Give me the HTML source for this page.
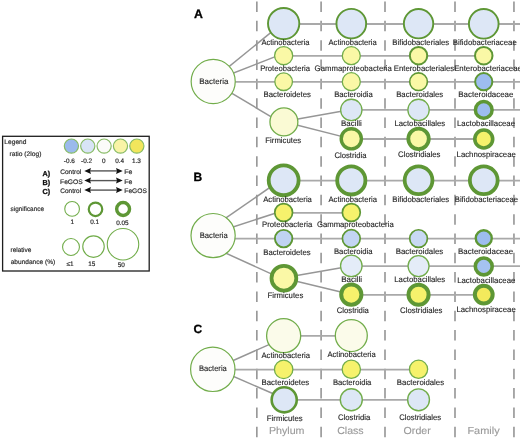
<!DOCTYPE html>
<html><head><meta charset="utf-8"><style>
html,body{margin:0;padding:0;background:#fff;}
svg{display:block;font-family:"Liberation Sans",sans-serif;text-rendering:geometricPrecision;will-change:transform;}
</style></head><body>
<svg width="520" height="438" viewBox="0 0 520 438">
<rect width="520" height="438" fill="#fff"/>
<line x1="256.85" y1="0" x2="256.85" y2="438" stroke="#959595" stroke-width="1.6" stroke-dasharray="10.5 8.83" stroke-dashoffset="-1.5"/>
<line x1="321.1" y1="0" x2="321.1" y2="438" stroke="#959595" stroke-width="1.6" stroke-dasharray="10.5 8.83" stroke-dashoffset="-1.5"/>
<line x1="385.0" y1="0" x2="385.0" y2="438" stroke="#959595" stroke-width="1.6" stroke-dasharray="10.5 8.83" stroke-dashoffset="-1.5"/>
<line x1="455.0" y1="0" x2="455.0" y2="438" stroke="#959595" stroke-width="1.6" stroke-dasharray="10.5 8.83" stroke-dashoffset="-1.5"/>
<line x1="513.95" y1="0" x2="513.95" y2="438" stroke="#959595" stroke-width="1.6" stroke-dasharray="10.5 8.83" stroke-dashoffset="-1.5"/>
<line x1="213" y1="79.64" x2="283.65" y2="22.07" stroke="#969696" stroke-width="1.5"/>
<line x1="213" y1="80.97" x2="283.65" y2="53.42" stroke="#969696" stroke-width="1.5"/>
<line x1="213" y1="82.03" x2="283.9" y2="124.38" stroke="#969696" stroke-width="1.5"/>
<line x1="213" y1="81.9" x2="520" y2="81.9" stroke="#a9a9a9" stroke-width="1.8"/>
<line x1="283.65" y1="24.0" x2="520" y2="24.0" stroke="#a9a9a9" stroke-width="1.8"/>
<line x1="283.65" y1="55.9" x2="483.75" y2="55.9" stroke="#a9a9a9" stroke-width="1.8"/>
<line x1="283.9" y1="121.48" x2="351.3" y2="109.42" stroke="#969696" stroke-width="1.5"/>
<line x1="283.9" y1="121.83" x2="351.3" y2="138.86" stroke="#969696" stroke-width="1.5"/>
<line x1="351.3" y1="109.9" x2="520" y2="109.9" stroke="#a9a9a9" stroke-width="1.8"/>
<line x1="351.3" y1="139.0" x2="483.75" y2="139.0" stroke="#a9a9a9" stroke-width="1.8"/>
<circle cx="213.2" cy="81.5" r="22.05" fill="#fdfdfb" stroke="#72ad4b" stroke-width="1.2"/>
<circle cx="283.65" cy="23.6" r="15.65" fill="#dde7f6" stroke="#5e9735" stroke-width="1.9"/>
<circle cx="351.3" cy="23.7" r="14.85" fill="#dde7f6" stroke="#5e9735" stroke-width="1.9"/>
<circle cx="418.55" cy="23.7" r="14.70" fill="#dde7f6" stroke="#5e9735" stroke-width="1.9"/>
<circle cx="483.75" cy="23.8" r="14.85" fill="#dde7f6" stroke="#5e9735" stroke-width="1.9"/>
<circle cx="283.65" cy="55.699999999999996" r="9.05" fill="#faf8a6" stroke="#72ad4b" stroke-width="1.3"/>
<circle cx="351.3" cy="55.699999999999996" r="9.00" fill="#faf8a6" stroke="#72ad4b" stroke-width="1.3"/>
<circle cx="418.55" cy="55.699999999999996" r="8.70" fill="#faf8a6" stroke="#5e9735" stroke-width="2"/>
<circle cx="483.75" cy="55.699999999999996" r="8.75" fill="#faf8a6" stroke="#5e9735" stroke-width="2"/>
<circle cx="283.65" cy="81.7" r="8.80" fill="#faf8a6" stroke="#72ad4b" stroke-width="1.3"/>
<circle cx="351.3" cy="81.7" r="9.00" fill="#faf8a6" stroke="#72ad4b" stroke-width="1.3"/>
<circle cx="418.55" cy="81.7" r="8.85" fill="#faf8a6" stroke="#5e9735" stroke-width="1.6"/>
<circle cx="483.75" cy="81.7" r="8.60" fill="#9dbdef" stroke="#5e9735" stroke-width="2"/>
<circle cx="283.9" cy="121.9" r="13.95" fill="#fafad4" stroke="#72ad4b" stroke-width="1.3"/>
<circle cx="351.3" cy="109.9" r="10.65" fill="#dde7f6" stroke="#72ad4b" stroke-width="1.3"/>
<circle cx="418.55" cy="109.9" r="10.65" fill="#dde7f6" stroke="#72ad4b" stroke-width="1.3"/>
<circle cx="483.75" cy="109.9" r="8.35" fill="#9dbdef" stroke="#5e9735" stroke-width="3.5"/>
<circle cx="351.3" cy="138.8" r="10.10" fill="#faf8a6" stroke="#5e9735" stroke-width="3.4"/>
<circle cx="418.55" cy="138.8" r="10.25" fill="#faf8a6" stroke="#5e9735" stroke-width="3.8"/>
<circle cx="483.75" cy="139.0" r="8.95" fill="#f6f26c" stroke="#5e9735" stroke-width="3.6"/>
<text x="199.35" y="83.95" font-size="8.0" fill="#1e1e1e" textLength="29.05" lengthAdjust="spacingAndGlyphs" stroke="#1e1e1e" stroke-width="0.12">Bacteria</text>
<text x="261.39" y="45.05" font-size="8.0" fill="#1e1e1e" textLength="48.21" lengthAdjust="spacingAndGlyphs" stroke="#1e1e1e" stroke-width="0.12">Actinobacteria</text>
<text x="328.49" y="44.85" font-size="8.0" fill="#1e1e1e" textLength="48.31" lengthAdjust="spacingAndGlyphs" stroke="#1e1e1e" stroke-width="0.12">Actinobacteria</text>
<text x="392.36" y="45.25" font-size="8.0" fill="#1e1e1e" textLength="56.81" lengthAdjust="spacingAndGlyphs" stroke="#1e1e1e" stroke-width="0.12">Bifidobacteriales</text>
<text x="452.76" y="45.25" font-size="8.0" fill="#1e1e1e" textLength="63.98" lengthAdjust="spacingAndGlyphs" stroke="#1e1e1e" stroke-width="0.12">Bifidobacteriaceae</text>
<text x="260.17" y="70.85" font-size="8.0" fill="#1e1e1e" textLength="49.83" lengthAdjust="spacingAndGlyphs" stroke="#1e1e1e" stroke-width="0.12">Proteobacteria</text>
<text x="314.61" y="71.45" font-size="8.0" fill="#1e1e1e" textLength="77.29" lengthAdjust="spacingAndGlyphs" stroke="#1e1e1e" stroke-width="0.12">Gammaproteobacteria</text>
<text x="393.76" y="71.05" font-size="8.0" fill="#1e1e1e" textLength="60.42" lengthAdjust="spacingAndGlyphs" stroke="#1e1e1e" stroke-width="0.12">Enterobacteriales</text>
<text x="454.16" y="71.15" font-size="8.0" fill="#1e1e1e" textLength="67.69" lengthAdjust="spacingAndGlyphs" stroke="#1e1e1e" stroke-width="0.12">Enterobacteriaceae</text>
<text x="263.56" y="96.95" font-size="8.0" fill="#1e1e1e" textLength="47.42" lengthAdjust="spacingAndGlyphs" stroke="#1e1e1e" stroke-width="0.12">Bacteroidetes</text>
<text x="334.17" y="96.85" font-size="8.0" fill="#1e1e1e" textLength="38.53" lengthAdjust="spacingAndGlyphs" stroke="#1e1e1e" stroke-width="0.12">Bacteroidia</text>
<text x="396.16" y="96.75" font-size="8.0" fill="#1e1e1e" textLength="47.02" lengthAdjust="spacingAndGlyphs" stroke="#1e1e1e" stroke-width="0.12">Bacteroidales</text>
<text x="458.35" y="96.85" font-size="8.0" fill="#1e1e1e" textLength="55.00" lengthAdjust="spacingAndGlyphs" stroke="#1e1e1e" stroke-width="0.12">Bacteroidaceae</text>
<text x="265.36" y="143.45" font-size="8.0" fill="#1e1e1e" textLength="35.72" lengthAdjust="spacingAndGlyphs" stroke="#1e1e1e" stroke-width="0.12">Firmicutes</text>
<text x="341.05" y="126.25" font-size="8.0" fill="#1e1e1e" textLength="20.79" lengthAdjust="spacingAndGlyphs" stroke="#1e1e1e" stroke-width="0.12">Bacilli</text>
<text x="394.47" y="125.95" font-size="8.0" fill="#1e1e1e" textLength="50.71" lengthAdjust="spacingAndGlyphs" stroke="#1e1e1e" stroke-width="0.12">Lactobacillales</text>
<text x="457.06" y="126.45" font-size="8.0" fill="#1e1e1e" textLength="57.98" lengthAdjust="spacingAndGlyphs" stroke="#1e1e1e" stroke-width="0.12">Lactobacillaceae</text>
<text x="334.41" y="157.75" font-size="8.0" fill="#1e1e1e" textLength="32.09" lengthAdjust="spacingAndGlyphs" stroke="#1e1e1e" stroke-width="0.12">Clostridia</text>
<text x="398.10" y="157.15" font-size="8.0" fill="#1e1e1e" textLength="42.38" lengthAdjust="spacingAndGlyphs" stroke="#1e1e1e" stroke-width="0.12">Clostridiales</text>
<text x="456.56" y="157.45" font-size="8.0" fill="#1e1e1e" textLength="59.28" lengthAdjust="spacingAndGlyphs" stroke="#1e1e1e" stroke-width="0.12">Lachnospiraceae</text>
<line x1="213" y1="226.99" x2="283.65" y2="177.88" stroke="#969696" stroke-width="1.5"/>
<line x1="213" y1="233.47" x2="283.65" y2="210.51" stroke="#969696" stroke-width="1.5"/>
<line x1="213" y1="247.30" x2="283.9" y2="279.67" stroke="#969696" stroke-width="1.5"/>
<line x1="213" y1="238.6" x2="520" y2="238.6" stroke="#a9a9a9" stroke-width="1.8"/>
<line x1="283.65" y1="180.6" x2="520" y2="180.6" stroke="#a9a9a9" stroke-width="1.8"/>
<line x1="283.65" y1="212.9" x2="351.3" y2="212.9" stroke="#a9a9a9" stroke-width="1.8"/>
<line x1="283.9" y1="277.68" x2="351.3" y2="266.05" stroke="#969696" stroke-width="1.5"/>
<line x1="283.9" y1="278.34" x2="351.3" y2="294.49" stroke="#969696" stroke-width="1.5"/>
<line x1="351.3" y1="266.1" x2="520" y2="266.1" stroke="#a9a9a9" stroke-width="1.8"/>
<line x1="351.3" y1="294.8" x2="483.75" y2="294.8" stroke="#a9a9a9" stroke-width="1.8"/>
<circle cx="213.1" cy="235.6" r="22.10" fill="#fdfdfb" stroke="#72ad4b" stroke-width="1.2"/>
<circle cx="283.65" cy="180.29999999999998" r="14.95" fill="#dde7f6" stroke="#5e9735" stroke-width="3.8"/>
<circle cx="351.3" cy="180.4" r="14.10" fill="#dde7f6" stroke="#5e9735" stroke-width="3.8"/>
<circle cx="418.55" cy="180.29999999999998" r="13.90" fill="#dde7f6" stroke="#5e9735" stroke-width="3.8"/>
<circle cx="483.75" cy="180.29999999999998" r="13.90" fill="#dde7f6" stroke="#5e9735" stroke-width="3.8"/>
<circle cx="283.65" cy="212.5" r="8.90" fill="#f6f26c" stroke="#5e9735" stroke-width="1.7"/>
<circle cx="351.3" cy="212.5" r="8.95" fill="#f6f26c" stroke="#5e9735" stroke-width="1.7"/>
<circle cx="283.65" cy="238.6" r="8.75" fill="#c0d3f2" stroke="#5e9735" stroke-width="1.9"/>
<circle cx="351.3" cy="238.6" r="8.90" fill="#c3d5f2" stroke="#5e9735" stroke-width="1.7"/>
<circle cx="418.55" cy="238.6" r="8.85" fill="#c8d9f3" stroke="#5e9735" stroke-width="1.7"/>
<circle cx="483.75" cy="238.29999999999998" r="8.00" fill="#9dbdef" stroke="#5e9735" stroke-width="2.4"/>
<circle cx="283.9" cy="278.2" r="12.40" fill="#faf8a6" stroke="#5e9735" stroke-width="3.8"/>
<circle cx="351.3" cy="265.90000000000003" r="10.75" fill="#e4ecf8" stroke="#72ad4b" stroke-width="1.3"/>
<circle cx="418.55" cy="266.1" r="10.50" fill="#e4ecf8" stroke="#72ad4b" stroke-width="1.3"/>
<circle cx="483.75" cy="266.40000000000003" r="8.45" fill="#a5c2f0" stroke="#5e9735" stroke-width="3.6"/>
<circle cx="351.3" cy="294.6" r="10.10" fill="#f6f26c" stroke="#5e9735" stroke-width="4"/>
<circle cx="418.55" cy="294.8" r="10.05" fill="#f6f26c" stroke="#5e9735" stroke-width="4"/>
<circle cx="483.75" cy="294.6" r="8.90" fill="#f3ea5c" stroke="#5e9735" stroke-width="4"/>
<text x="199.77" y="237.95" font-size="8.0" fill="#1e1e1e" textLength="28.03" lengthAdjust="spacingAndGlyphs" stroke="#1e1e1e" stroke-width="0.12">Bacteria</text>
<text x="263.18" y="201.75" font-size="8.0" fill="#1e1e1e" textLength="48.72" lengthAdjust="spacingAndGlyphs" stroke="#1e1e1e" stroke-width="0.12">Actinobacteria</text>
<text x="328.49" y="201.85" font-size="8.0" fill="#1e1e1e" textLength="48.51" lengthAdjust="spacingAndGlyphs" stroke="#1e1e1e" stroke-width="0.12">Actinobacteria</text>
<text x="392.37" y="201.75" font-size="8.0" fill="#1e1e1e" textLength="56.71" lengthAdjust="spacingAndGlyphs" stroke="#1e1e1e" stroke-width="0.12">Bifidobacteriales</text>
<text x="454.77" y="201.95" font-size="8.0" fill="#1e1e1e" textLength="63.27" lengthAdjust="spacingAndGlyphs" stroke="#1e1e1e" stroke-width="0.12">Bifidobacteriaceae</text>
<text x="262.07" y="227.35" font-size="8.0" fill="#1e1e1e" textLength="50.13" lengthAdjust="spacingAndGlyphs" stroke="#1e1e1e" stroke-width="0.12">Proteobacteria</text>
<text x="316.91" y="226.95" font-size="8.0" fill="#1e1e1e" textLength="76.79" lengthAdjust="spacingAndGlyphs" stroke="#1e1e1e" stroke-width="0.12">Gammaproteobacteria</text>
<text x="263.26" y="254.55" font-size="8.0" fill="#1e1e1e" textLength="47.42" lengthAdjust="spacingAndGlyphs" stroke="#1e1e1e" stroke-width="0.12">Bacteroidetes</text>
<text x="333.97" y="254.25" font-size="8.0" fill="#1e1e1e" textLength="38.63" lengthAdjust="spacingAndGlyphs" stroke="#1e1e1e" stroke-width="0.12">Bacteroidia</text>
<text x="395.66" y="254.35" font-size="8.0" fill="#1e1e1e" textLength="47.63" lengthAdjust="spacingAndGlyphs" stroke="#1e1e1e" stroke-width="0.12">Bacteroidales</text>
<text x="458.05" y="254.25" font-size="8.0" fill="#1e1e1e" textLength="55.00" lengthAdjust="spacingAndGlyphs" stroke="#1e1e1e" stroke-width="0.12">Bacteroidaceae</text>
<text x="267.46" y="298.45" font-size="8.0" fill="#1e1e1e" textLength="35.82" lengthAdjust="spacingAndGlyphs" stroke="#1e1e1e" stroke-width="0.12">Firmicutes</text>
<text x="341.14" y="281.95" font-size="8.0" fill="#1e1e1e" textLength="20.90" lengthAdjust="spacingAndGlyphs" stroke="#1e1e1e" stroke-width="0.12">Bacilli</text>
<text x="394.26" y="282.05" font-size="8.0" fill="#1e1e1e" textLength="51.02" lengthAdjust="spacingAndGlyphs" stroke="#1e1e1e" stroke-width="0.12">Lactobacillales</text>
<text x="457.16" y="282.55" font-size="8.0" fill="#1e1e1e" textLength="58.19" lengthAdjust="spacingAndGlyphs" stroke="#1e1e1e" stroke-width="0.12">Lactobacillaceae</text>
<text x="336.81" y="312.75" font-size="8.0" fill="#1e1e1e" textLength="32.09" lengthAdjust="spacingAndGlyphs" stroke="#1e1e1e" stroke-width="0.12">Clostridia</text>
<text x="400.10" y="312.85" font-size="8.0" fill="#1e1e1e" textLength="42.38" lengthAdjust="spacingAndGlyphs" stroke="#1e1e1e" stroke-width="0.12">Clostridiales</text>
<text x="456.46" y="311.95" font-size="8.0" fill="#1e1e1e" textLength="59.28" lengthAdjust="spacingAndGlyphs" stroke="#1e1e1e" stroke-width="0.12">Lachnospiraceae</text>
<line x1="213" y1="369.46" x2="283.65" y2="338.11" stroke="#969696" stroke-width="1.5"/>
<line x1="213" y1="367.49" x2="284.2" y2="398.48" stroke="#969696" stroke-width="1.5"/>
<line x1="213" y1="369.6" x2="418.55" y2="369.6" stroke="#a9a9a9" stroke-width="1.8"/>
<line x1="283.65" y1="335.85" x2="351.3" y2="335.85" stroke="#a9a9a9" stroke-width="1.8"/>
<line x1="284.2" y1="399.9" x2="418.55" y2="399.9" stroke="#a9a9a9" stroke-width="1.8"/>
<circle cx="212.8" cy="369.3" r="22.20" fill="#fdfdfb" stroke="#72ad4b" stroke-width="1.2"/>
<circle cx="283.65" cy="335.65000000000003" r="17.05" fill="#fbfbea" stroke="#72ad4b" stroke-width="1.3"/>
<circle cx="351.3" cy="335.55" r="16.00" fill="#fbfbea" stroke="#72ad4b" stroke-width="1.3"/>
<circle cx="283.65" cy="369.40000000000003" r="9.20" fill="#f6f26c" stroke="#72ad4b" stroke-width="1.3"/>
<circle cx="351.3" cy="369.3" r="9.15" fill="#f6f26c" stroke="#72ad4b" stroke-width="1.3"/>
<circle cx="418.55" cy="369.3" r="9.10" fill="#f6f26c" stroke="#72ad4b" stroke-width="1.3"/>
<circle cx="284.2" cy="399.79999999999995" r="12.55" fill="#dde7f6" stroke="#5e9735" stroke-width="2.6"/>
<circle cx="351.3" cy="399.79999999999995" r="11.00" fill="#dde7f6" stroke="#72ad4b" stroke-width="1.4"/>
<circle cx="418.55" cy="399.79999999999995" r="10.90" fill="#dde7f6" stroke="#72ad4b" stroke-width="1.4"/>
<text x="198.98" y="371.05" font-size="8.0" fill="#1e1e1e" textLength="27.82" lengthAdjust="spacingAndGlyphs" stroke="#1e1e1e" stroke-width="0.12">Bacteria</text>
<text x="261.49" y="358.45" font-size="8.0" fill="#1e1e1e" textLength="48.51" lengthAdjust="spacingAndGlyphs" stroke="#1e1e1e" stroke-width="0.12">Actinobacteria</text>
<text x="327.39" y="357.15" font-size="8.0" fill="#1e1e1e" textLength="48.31" lengthAdjust="spacingAndGlyphs" stroke="#1e1e1e" stroke-width="0.12">Actinobacteria</text>
<text x="261.56" y="385.05" font-size="8.0" fill="#1e1e1e" textLength="47.72" lengthAdjust="spacingAndGlyphs" stroke="#1e1e1e" stroke-width="0.12">Bacteroidetes</text>
<text x="332.97" y="385.45" font-size="8.0" fill="#1e1e1e" textLength="38.43" lengthAdjust="spacingAndGlyphs" stroke="#1e1e1e" stroke-width="0.12">Bacteroidia</text>
<text x="396.86" y="385.45" font-size="8.0" fill="#1e1e1e" textLength="47.22" lengthAdjust="spacingAndGlyphs" stroke="#1e1e1e" stroke-width="0.12">Bacteroidales</text>
<text x="266.86" y="421.25" font-size="8.0" fill="#1e1e1e" textLength="35.82" lengthAdjust="spacingAndGlyphs" stroke="#1e1e1e" stroke-width="0.12">Firmicutes</text>
<text x="338.01" y="420.15" font-size="8.0" fill="#1e1e1e" textLength="32.29" lengthAdjust="spacingAndGlyphs" stroke="#1e1e1e" stroke-width="0.12">Clostridia</text>
<text x="399.31" y="420.15" font-size="8.0" fill="#1e1e1e" textLength="41.87" lengthAdjust="spacingAndGlyphs" stroke="#1e1e1e" stroke-width="0.12">Clostridiales</text>
<text x="268.92" y="434.45" font-size="10.2" fill="#9a9a9a" textLength="35.58" lengthAdjust="spacingAndGlyphs" stroke="#9a9a9a" stroke-width="0.12">Phylum</text>
<text x="337.16" y="434.45" font-size="10.2" fill="#9a9a9a" textLength="26.52" lengthAdjust="spacingAndGlyphs" stroke="#9a9a9a" stroke-width="0.12">Class</text>
<text x="403.60" y="434.45" font-size="10.2" fill="#9a9a9a" textLength="27.18" lengthAdjust="spacingAndGlyphs" stroke="#9a9a9a" stroke-width="0.12">Order</text>
<text x="467.40" y="434.45" font-size="10.2" fill="#9a9a9a" textLength="32.22" lengthAdjust="spacingAndGlyphs" stroke="#9a9a9a" stroke-width="0.12">Family</text>
<text x="194.1" y="18.0" font-size="12.3" fill="#000" text-anchor="start" font-weight="bold" stroke="#000" stroke-width="0.3">A</text>
<text x="193.6" y="180.7" font-size="12" fill="#000" text-anchor="start" font-weight="bold" stroke="#000" stroke-width="0.3">B</text>
<text x="193.4" y="333.2" font-size="12" fill="#000" text-anchor="start" font-weight="bold" stroke="#000" stroke-width="0.3">C</text>
<rect x="2.6" y="136.3" width="146.6" height="134.7" fill="#fff" stroke="#1e1e1e" stroke-width="1.3"/>
<text x="4.36" y="143.9" font-size="6.6" fill="#2a2a2a" textLength="22.07" lengthAdjust="spacingAndGlyphs" stroke="#2a2a2a" stroke-width="0.18">Legend</text>
<text x="9.46" y="155.7" font-size="6.6" fill="#2a2a2a" textLength="31.96" lengthAdjust="spacingAndGlyphs" stroke="#2a2a2a" stroke-width="0.18">ratio (2log)</text>
<circle cx="71.4" cy="146.1" r="7.10" fill="#9bbaec" stroke="#88bb66" stroke-width="1.2"/>
<circle cx="87.76" cy="146.1" r="7.10" fill="#d8e4f6" stroke="#88bb66" stroke-width="1.2"/>
<circle cx="104.12" cy="146.1" r="7.10" fill="#fbfbf9" stroke="#88bb66" stroke-width="1.2"/>
<circle cx="120.48" cy="146.1" r="7.10" fill="#f9f4a6" stroke="#88bb66" stroke-width="1.2"/>
<circle cx="136.84" cy="146.1" r="7.10" fill="#f2e65c" stroke="#88bb66" stroke-width="1.2"/>
<text x="69.3" y="163.0" font-size="6.4" fill="#2a2a2a" text-anchor="middle" font-weight="normal" stroke="#2a2a2a" stroke-width="0.18">-0.6</text>
<text x="86.6" y="163.0" font-size="6.4" fill="#2a2a2a" text-anchor="middle" font-weight="normal" stroke="#2a2a2a" stroke-width="0.18">-0.2</text>
<text x="103.7" y="163.0" font-size="6.4" fill="#2a2a2a" text-anchor="middle" font-weight="normal" stroke="#2a2a2a" stroke-width="0.18">0</text>
<text x="119.6" y="163.0" font-size="6.4" fill="#2a2a2a" text-anchor="middle" font-weight="normal" stroke="#2a2a2a" stroke-width="0.18">0.4</text>
<text x="136.4" y="163.0" font-size="6.4" fill="#2a2a2a" text-anchor="middle" font-weight="normal" stroke="#2a2a2a" stroke-width="0.18">1.3</text>
<text x="42.5" y="176.1" font-size="7.2" fill="#111" text-anchor="start" font-weight="bold" stroke="#111" stroke-width="0.3">A)</text>
<text x="60.27" y="174.3" font-size="6.6" fill="#2a2a2a" textLength="20.97" lengthAdjust="spacingAndGlyphs" stroke="#2a2a2a" stroke-width="0.18">Control</text>
<text x="124.33" y="174.3" font-size="6.6" fill="#2a2a2a" textLength="8.08" lengthAdjust="spacingAndGlyphs" stroke="#2a2a2a" stroke-width="0.18">Fe</text>
<text x="42.5" y="184.8" font-size="7.2" fill="#111" text-anchor="start" font-weight="bold" stroke="#111" stroke-width="0.3">B)</text>
<text x="60.05" y="183.9" font-size="6.6" fill="#2a2a2a" textLength="22.66" lengthAdjust="spacingAndGlyphs" stroke="#2a2a2a" stroke-width="0.18">FeGOS</text>
<text x="124.33" y="183.9" font-size="6.6" fill="#2a2a2a" textLength="8.08" lengthAdjust="spacingAndGlyphs" stroke="#2a2a2a" stroke-width="0.18">Fe</text>
<text x="42.5" y="194.0" font-size="7.2" fill="#111" text-anchor="start" font-weight="bold" stroke="#111" stroke-width="0.3">C)</text>
<text x="60.27" y="193.4" font-size="6.6" fill="#2a2a2a" textLength="20.86" lengthAdjust="spacingAndGlyphs" stroke="#2a2a2a" stroke-width="0.18">Control</text>
<text x="124.35" y="193.4" font-size="6.6" fill="#2a2a2a" textLength="22.55" lengthAdjust="spacingAndGlyphs" stroke="#2a2a2a" stroke-width="0.18">FeGOS</text>
<line x1="89" y1="170.9" x2="118" y2="170.9" stroke="#555" stroke-width="1.4"/>
<path d="M84.3 170.9 L91.0 167.9 L90.0 170.9 L91.0 173.9 Z" fill="#111"/>
<path d="M122.7 170.9 L116.0 167.9 L117.0 170.9 L116.0 173.9 Z" fill="#111"/>
<line x1="89" y1="180.6" x2="118" y2="180.6" stroke="#555" stroke-width="1.4"/>
<path d="M84.3 180.6 L91.0 177.6 L90.0 180.6 L91.0 183.6 Z" fill="#111"/>
<path d="M122.7 180.6 L116.0 177.6 L117.0 180.6 L116.0 183.6 Z" fill="#111"/>
<line x1="89" y1="190.1" x2="118" y2="190.1" stroke="#555" stroke-width="1.4"/>
<path d="M84.3 190.1 L91.0 187.1 L90.0 190.1 L91.0 193.1 Z" fill="#111"/>
<path d="M122.7 190.1 L116.0 187.1 L117.0 190.1 L116.0 193.1 Z" fill="#111"/>
<text x="10.52" y="210.8" font-size="6.6" fill="#2a2a2a" textLength="33.46" lengthAdjust="spacingAndGlyphs" stroke="#2a2a2a" stroke-width="0.18">significance</text>
<circle cx="72.1" cy="208.9" r="7.35" fill="#fff" stroke="#72ad4b" stroke-width="1.1"/>
<circle cx="95.5" cy="209.3" r="6.75" fill="#fff" stroke="#5e9735" stroke-width="2.2"/>
<circle cx="123.1" cy="209" r="6.45" fill="#fff" stroke="#5e9735" stroke-width="3.4"/>
<text x="72.3" y="224.3" font-size="6.4" fill="#2a2a2a" text-anchor="middle" font-weight="normal" stroke="#2a2a2a" stroke-width="0.18">1</text>
<text x="94.6" y="224.4" font-size="6.4" fill="#2a2a2a" text-anchor="middle" font-weight="normal" stroke="#2a2a2a" stroke-width="0.18">0.1</text>
<text x="122.4" y="224.8" font-size="6.4" fill="#2a2a2a" text-anchor="middle" font-weight="normal" stroke="#2a2a2a" stroke-width="0.18">0.05</text>
<text x="10.57" y="251.8" font-size="6.6" fill="#2a2a2a" textLength="20.82" lengthAdjust="spacingAndGlyphs" stroke="#2a2a2a" stroke-width="0.18">relative</text>
<text x="10.72" y="263.9" font-size="6.6" fill="#2a2a2a" textLength="44.49" lengthAdjust="spacingAndGlyphs" stroke="#2a2a2a" stroke-width="0.18">abundance (%)</text>
<circle cx="71" cy="247" r="8.45" fill="#fff" stroke="#72ad4b" stroke-width="1.1"/>
<circle cx="93.5" cy="246.6" r="10.75" fill="#fff" stroke="#72ad4b" stroke-width="1.1"/>
<circle cx="123" cy="244.2" r="15.75" fill="#fff" stroke="#72ad4b" stroke-width="1.1"/>
<text x="70.1" y="266.2" font-size="6.4" fill="#2a2a2a" text-anchor="middle" font-weight="normal" stroke="#2a2a2a" stroke-width="0.18">≤1</text>
<text x="91.7" y="266.2" font-size="6.4" fill="#2a2a2a" text-anchor="middle" font-weight="normal" stroke="#2a2a2a" stroke-width="0.18">15</text>
<text x="121.2" y="267.1" font-size="6.4" fill="#2a2a2a" text-anchor="middle" font-weight="normal" stroke="#2a2a2a" stroke-width="0.18">50</text>
</svg>
</body></html>
